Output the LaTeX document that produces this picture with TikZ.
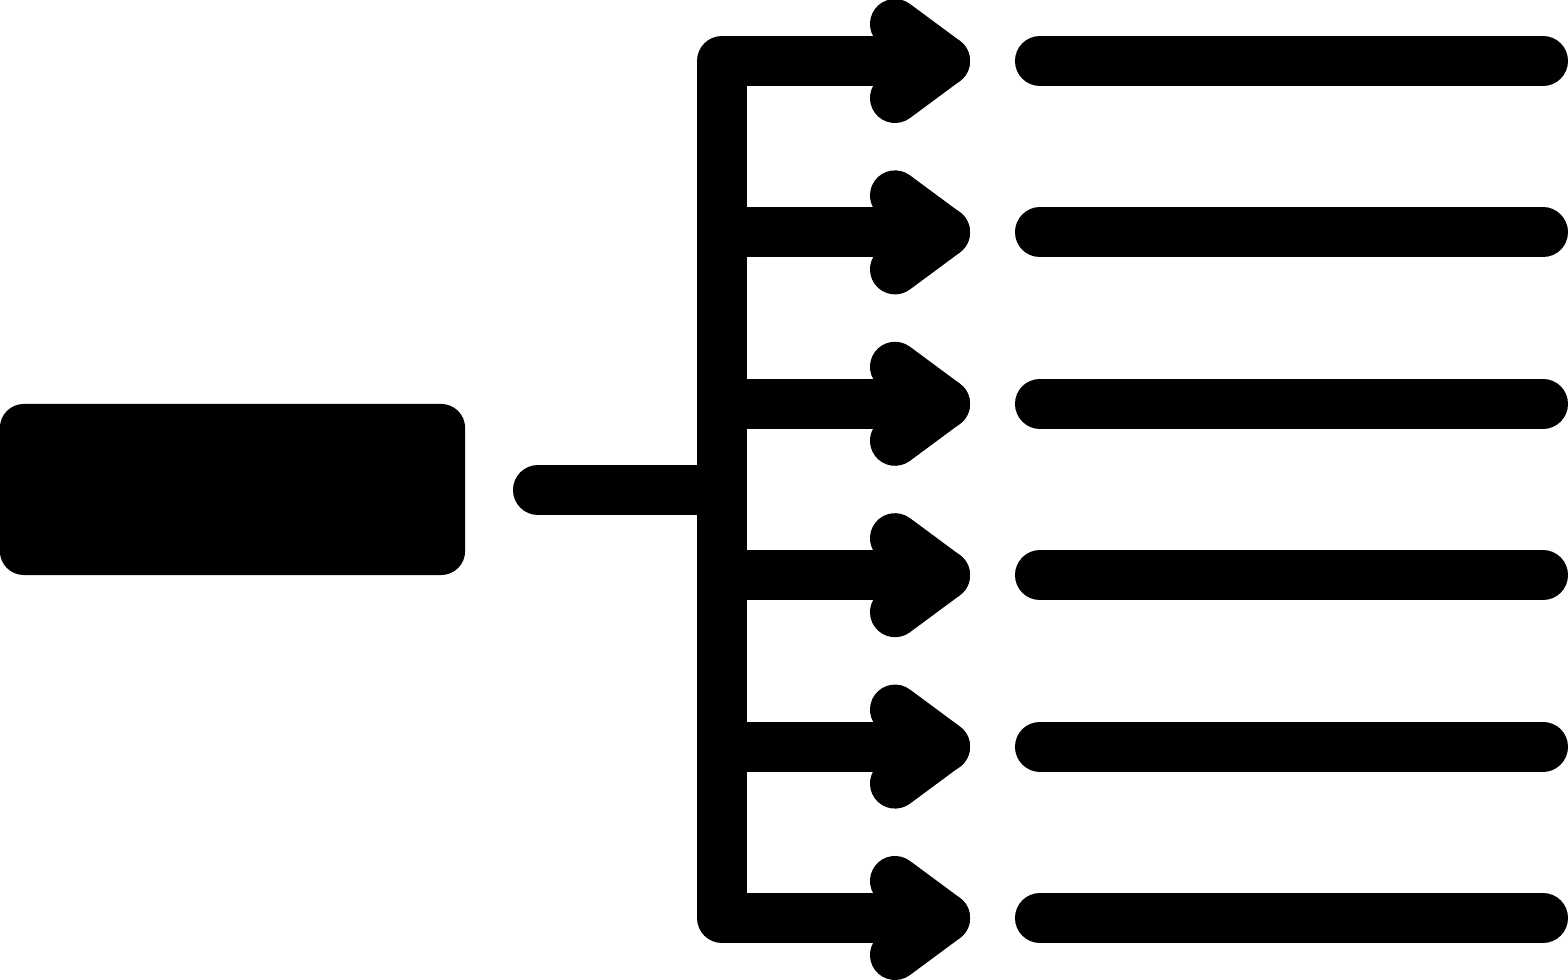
\documentclass[tikz,border=0pt]{standalone}
\usepackage{tikz}
\usetikzlibrary{positioning}

\begin{document}
\begin{tikzpicture}[x=0.01cm,y=-0.01cm]
			\tikzstyle{bar}=[line width=0.5cm,line cap=round,line join=round]
			\tikzstyle{block}=[fill=black,rounded corners=0.24cm,minimum width=4.65cm,minimum height=1.71cm,inner sep=0pt]
			\useasboundingbox (0,0) rectangle (1568,980);
			\node[block](src) at (232.5,489.5){};
			\coordinate (hubin) at (538,490);
			\coordinate (hub) at (722,490);
			\foreach \i in {1,...,6}{
				\coordinate (b\i) at (722,{61+(\i-1)*171.4});
				\coordinate (t\i) at (945,{61+(\i-1)*171.4});
				\coordinate (l\i) at (1040,{61+(\i-1)*171.4});
				\coordinate (r\i) at (1543,{61+(\i-1)*171.4});
			}
			\draw[bar] (hubin) -- (hub);
			\draw[bar] (t1) -- (b1) -- (b6) -- (t6);
			\foreach \i in {2,...,5}
				\draw[bar] (b\i) -- (t\i);
			\foreach \i in {1,...,6}{
				\draw[bar] ([shift={(-50,-37)}]t\i) -- (t\i) -- ([shift={(-50,37)}]t\i);
				\draw[bar] (l\i) -- (r\i);
			}
		\end{tikzpicture}
\end{document}
